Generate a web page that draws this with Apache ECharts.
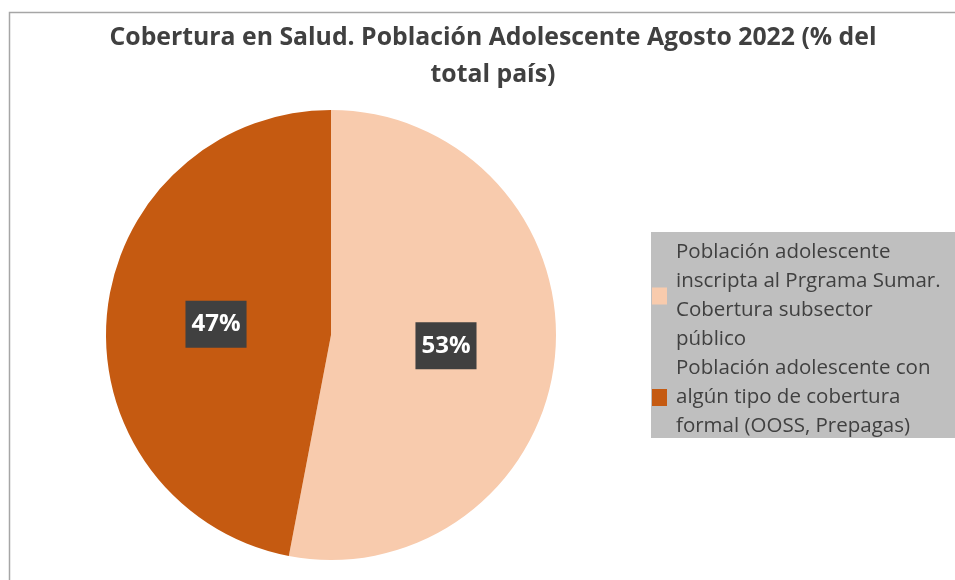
<!DOCTYPE html>
<html>
<head>
<meta charset="utf-8">
<script src="https://cdn.jsdelivr.net/npm/echarts@6/dist/echarts.min.js"></script>
<style>html,body{margin:0;padding:0;background:#fff}#c{width:955px;height:580px}</style>
</head>
<body>
<div id="c"></div>
<script>
const titleText = 'Cobertura en Salud. Población Adolescente Agosto 2022 (% del\ntotal país)';
const categories = [
  'Población adolescente\ninscripta al Prgrama Sumar.\nCobertura subsector\npúblico',
  'Población adolescente con\nalgún tipo de cobertura\nformal (OOSS, Prepagas)'
];
const values = [53, 47];
const colors = ['#F8CBAD', '#C55A11'];

const chart = echarts.init(document.getElementById('c'));
chart.setOption({
  animation: false,
  title: {
    text: titleText,
    left: 488,
    top: 14,
    textAlign: 'center',
    textStyle: {
      fontFamily: "'Open Sans', sans-serif",
      fontWeight: 'bold',
      fontSize: 24.8,
      lineHeight: 37,
      color: '#404040'
    }
  },
  graphic: [
    { type: 'rect', z: -10, shape: { x: 9.5, y: 12.5, width: 1000, height: 700 }, style: { fill: null, stroke: '#A6A6A6', lineWidth: 1.5 } },
    { type: 'rect', z: -5, shape: { x: 651, y: 232, width: 320, height: 206 }, style: { fill: '#BFBFBF' } }
  ],
  legend: {
    orient: 'vertical',
    left: 652,
    top: 238,
    padding: 0,
    itemGap: 0,
    itemWidth: 15,
    itemHeight: 17,
    icon: 'rect',
    itemStyle: { borderWidth: 0 },
    data: categories,
    textStyle: {
      fontFamily: "'Open Sans', sans-serif",
      fontSize: 20.5,
      lineHeight: 29,
      color: '#404040',
      padding: [0, 0, 0, 4]
    }
  },
  series: [{
    type: 'pie',
    center: [331, 335],
    radius: [0, 225],
    startAngle: 90,
    clockwise: true,
    color: colors,
    itemStyle: { borderWidth: 0 },
    label: {
      show: true,
      position: 'inside',
      formatter: '{c}%',
      color: '#fff',
      fontFamily: "'Open Sans', sans-serif",
      fontWeight: 'bold',
      fontSize: 24,
      lineHeight: 29,
      backgroundColor: '#404040',
      padding: [9, 6, 9, 6]
    },
    labelLine: { show: false },
    emphasis: { disabled: true },
    data: categories.map((n, i) => ({ name: n, value: values[i] }))
  }]
});
</script>
</body>
</html>
